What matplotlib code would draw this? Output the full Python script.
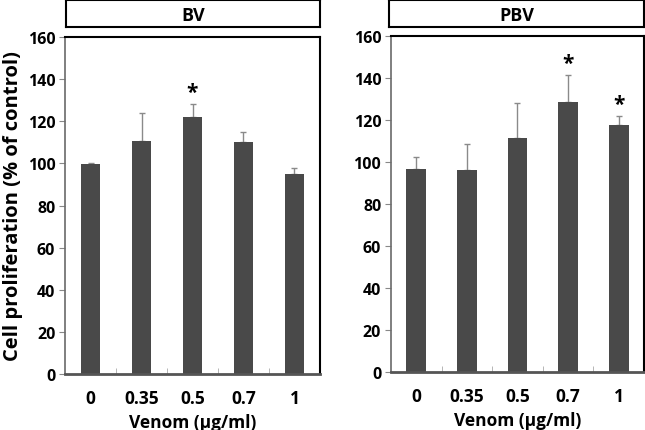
import numpy as np
import matplotlib.pyplot as plt
from matplotlib.ticker import FixedLocator

# data
doses = ['0', '0.35', '0.5', '0.7', '1']
bv_mean = [99.5, 110.5, 122.0, 110.0, 95.0]
bv_err = [0.6, 13.5, 6.0, 5.0, 3.0]
bv_sig = [False, False, True, False, False]
pbv_mean = [96.8, 96.2, 111.5, 128.7, 117.5]
pbv_err = [5.5, 12.3, 16.5, 12.6, 4.5]
pbv_sig = [False, False, False, True, True]

plt.rcParams['font.family'] = ['Open Sans', 'DejaVu Sans']
plt.rcParams['font.weight'] = 'bold'

fig = plt.figure(figsize=(6.45, 4.31), dpi=100)

panels = [
    ('BV', bv_mean, bv_err, bv_sig, [0.1008, 0.1299, 0.3953, 0.7819], [0.1023, 0.935, 0.3938, 0.0627]),
    ('PBV', pbv_mean, pbv_err, pbv_sig, [0.6062, 0.1346, 0.3922, 0.7796], [0.6031, 0.935, 0.3953, 0.0627]),
]

for i, (name, mean, err, sig, pos, tpos) in enumerate(panels):
    ax = fig.add_axes(pos)
    x = np.arange(len(doses))
    ax.bar(x, mean, width=0.39, color='#494949', zorder=2)
    ax.errorbar(x, mean, yerr=[np.zeros(len(mean)), err], fmt='none',
                ecolor='#8a8a8a', elinewidth=1.0, capsize=2.5, capthick=1.0, zorder=1)
    for xi, m, e, s in zip(x, mean, err, sig):
        if s:
            ax.text(xi, m + e + 0.5, '*', ha='center', va='bottom', fontsize=15, fontweight='bold')
    ax.set_xlim(-0.5, len(doses) - 0.5)
    ax.set_ylim(0, 160)
    ax.set_yticks(np.arange(0, 161, 20))
    ax.set_xticks(x)
    ax.set_xticklabels(doses)
    ax.xaxis.set_minor_locator(FixedLocator(np.arange(0.5, len(doses) - 0.5, 1)))
    ax.tick_params(axis='x', which='major', length=0, labelsize=12.5, pad=11)
    ax.tick_params(axis='x', which='minor', direction='in', length=4, color='#aaaaaa')
    ax.tick_params(axis='y', direction='out', length=4, color='#888888', labelsize=11.5, pad=3)
    for lab in ax.get_xticklabels() + ax.get_yticklabels():
        lab.set_fontweight('bold')
    ax.spines['left'].set_color('#6a6a6a')
    ax.spines['left'].set_linewidth(1.2)
    ax.spines['bottom'].set_color('#555555')
    ax.spines['bottom'].set_linewidth(2.0)
    ax.spines['top'].set_linewidth(1.5)
    ax.spines['right'].set_linewidth(1.5)
    ax.set_xlabel('Venom (μg/ml)', fontsize=12.5, fontweight='bold', labelpad=4)
    if i == 0:
        ax.set_ylabel('Cell proliferation (% of control)', fontsize=14.5, fontweight='bold', labelpad=3)

    # title box
    tax = fig.add_axes(tpos)
    tax.set_xticks([])
    tax.set_yticks([])
    for sp in tax.spines.values():
        sp.set_linewidth(1.5)
    tax.text(0.5, 0.45, name, ha='center', va='center', fontsize=13, fontweight='bold',
             transform=tax.transAxes)

fig.savefig('out.png', dpi=100)
